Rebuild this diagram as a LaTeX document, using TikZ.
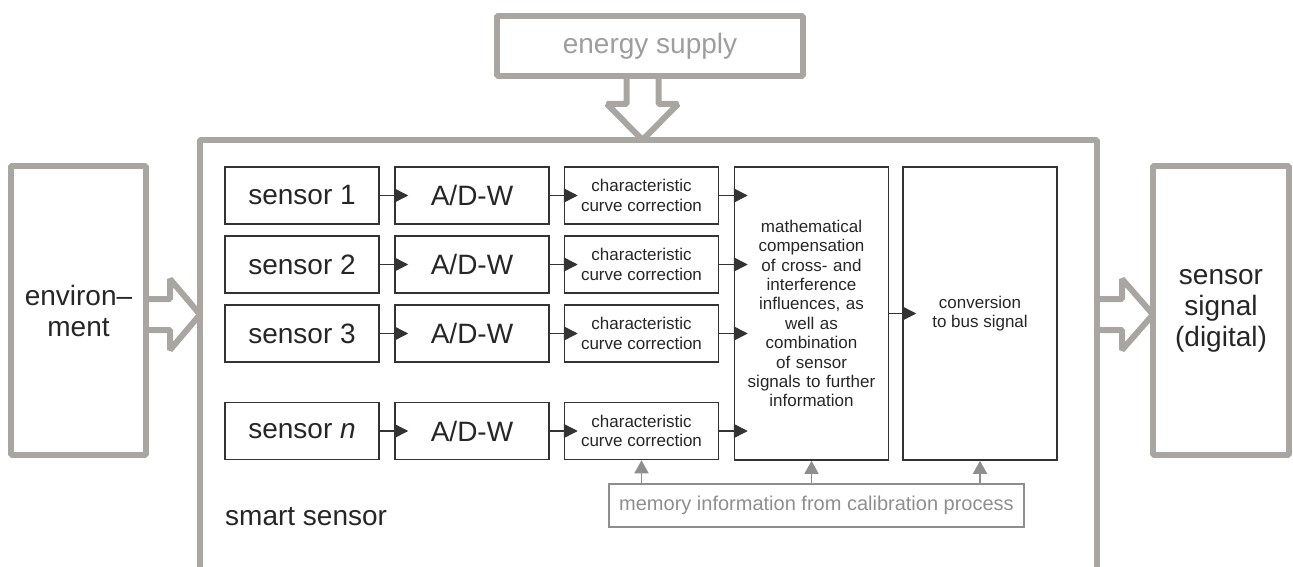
\documentclass[tikz,border=0pt]{standalone}
\usepackage{fontspec}
\setmainfont{Liberation Sans}
\usetikzlibrary{arrows.meta}
\definecolor{outergray}{HTML}{A9A5A1}
\definecolor{supplygray}{HTML}{9E9E9E}
\definecolor{memgray}{HTML}{8E8E8E}
\definecolor{inkgray}{HTML}{333333}
\begin{document}
\begin{tikzpicture}[x=1pt,y=-1pt,
  shell/.style={draw=outergray, line width=6pt, line join=bevel},
  outer/.style={shell, fill=white, align=center},
  bigtext/.style={font=\fontsize{28}{31}\selectfont, text=black!85},
  small/.style={font=\fontsize{17}{19.4}\selectfont, text=black!85},
  block/.style={draw=inkgray, line width=1.5pt, minimum height=57pt, minimum width=154pt, inner sep=0pt, align=center},
  flow/.style={draw=inkgray, line width=1.5pt, -{Triangle[length=14pt,width=14pt]}},
  memflow/.style={draw=memgray, line width=1.5pt, -{Triangle[length=13pt,width=14pt]}}]
  \useasboundingbox (0,0) rectangle (1293,567);
  % smart sensor housing and the three hollow arrows
  \draw[shell] (200,575) -- (200,140) -- (1097,140) -- (1097,575);
  \draw[shell] (146,299) -- (170,299) -- (170,279) -- (200,314.5) -- (170,350) -- (170,330) -- (146,330);
  \draw[shell] (1097,299) -- (1122,299) -- (1122,279) -- (1153,314.5) -- (1122,350) -- (1122,330) -- (1097,330);
  \draw[shell] (626.5,76) -- (626.5,104) -- (607,104) -- (642.5,140) -- (678,104) -- (658.5,104) -- (658.5,76);
  \node[outer, bigtext, minimum width=135pt, minimum height=289pt] (env) at (78.5,310.5) {environ–\\ment};
  \node[outer, bigtext, minimum width=136pt, minimum height=289pt] (sig) at (1221,310.5) {sensor\\signal\\(digital)};
  \node[outer, minimum width=306pt, minimum height=60pt, font=\fontsize{28}{31}\selectfont, text=supplygray] (supply) at (650,46) {energy supply};
  % processing blocks
  \node[block, small, minimum height=293pt, text width=150pt] (math) at (811.5,313.5)
    {mathematical\\compensation\\of cross- and\\interference\\influences, as\\well as\\combination\\of sensor\\signals to further\\information};
  \node[block, small, minimum height=293pt] (conv) at (980,313.5) {conversion\\to bus signal};
  \draw[flow] (math.east) -- ([xshift=14pt]conv.west);
  \foreach \i/\lbl/\y in {1/1/195.5, 2/2/264.5, 3/3/333.5, n/\textit{n}/431} {
    \node[block, bigtext] (s\i) at (302,\y) {sensor \lbl};
    \node[block, bigtext] (a\i) at (472,\y) {A/D-W};
    \node[block, small] (c\i) at (641.5,\y) {characteristic\\curve correction};
    \draw[flow] (s\i.east) -- ([xshift=14pt]a\i.west);
    \draw[flow] (a\i.east) -- ([xshift=14pt]c\i.west);
    \draw[flow] (c\i.east) -- ([xshift=14pt]c\i.east -| math.west);
  }
  % calibration memory
  \node[draw=memgray, line width=1.5pt, minimum width=415pt, minimum height=43pt, text=memgray, font=\fontsize{20}{24}\selectfont] (mem) at (816.5,505.5) {memory information from calibration process};
  \foreach \t in {cn, math, conv}
    \draw[memflow] (mem.north -| \t.south) -- (\t.south);
  \node[bigtext, anchor=west, inner sep=0pt] (smart) at (225,517) {smart sensor};
\end{tikzpicture}
\end{document}
